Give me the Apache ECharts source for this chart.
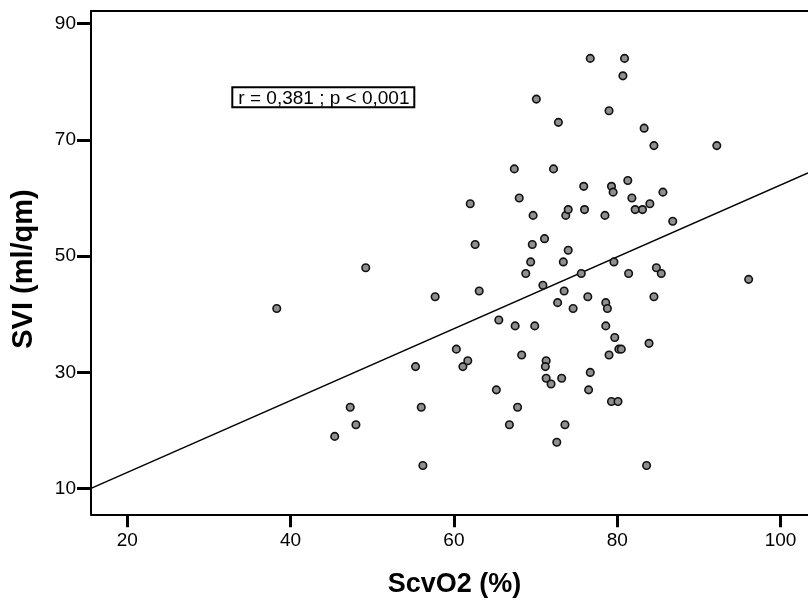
<!DOCTYPE html>
<html>
<head>
<meta charset="utf-8">
<script src="https://cdn.jsdelivr.net/npm/echarts@6/dist/echarts.min.js"></script>
<style>
html,body{margin:0;padding:0;background:#fff;}
#chart{width:808px;height:601px;}
</style>
</head>
<body>
<div id="chart"></div>
<script>
// ---- data ----
const scvo2 = [38.3,49.2,45.4,47.3,48.0,55.3,56.0,56.2,57.7,60.3,61.1,61.7,62.0,62.6,63.1,65.2,65.5,66.8,67.4,67.5,67.8,68.0,68.3,68.8,69.4,69.6,69.7,69.9,70.1,70.9,71.1,71.3,71.2,71.3,71.9,72.2,72.6,72.7,72.8,73.2,73.4,73.5,73.6,73.7,74.0,74.0,74.6,75.6,75.9,76.0,76.4,76.5,76.7,76.7,78.5,78.6,78.6,78.8,79.0,79.0,79.3,79.3,79.5,79.6,79.7,80.1,80.2,80.5,80.7,80.9,81.3,81.4,81.8,82.2,83.1,83.3,83.6,84.0,83.9,84.5,84.5,84.8,85.4,85.6,86.8,92.2,96.1];
const svi   = [41,48,19,24,21,31,24,14,43,34,31,32,59,52,44,27,39,21,65,38,24,60,33,47,49,52,57,38,77,45,53,32,31,29,28,65,18,42,73,29,49,44,21,57,58,51,41,47,62,58,43,27,84,30,57,42,38,41,75,33,62,25,61,49,36,25,34,34,81,84,63,47,60,58,58,72,14,59,35,69,43,48,47,61,56,69,46];
const xTicks = [20,40,60,80,100];
const yTicks = [10,30,50,70,90];
const fitIntercept = 0.44;
const fitSlope = 0.618;
const xTitle = 'ScvO2 (%)';
const yTitle = 'SVI (ml/qm)';
const annotation = 'r = 0,381 ; p < 0,001';

// ---- axis extents ----
const xMin = 15.55, xMax = 103.37;
const yMin = 5.6, yMax = 92.15;

const points = scvo2.map((x, i) => [x, svi[i]]);
const fitLine = [xMin, xMax].map(x => [x, fitIntercept + fitSlope * x]);

const tickFont = 'Liberation Sans, Arial, sans-serif';

const chart = echarts.init(document.getElementById('chart'), null, {renderer: 'canvas'});
chart.setOption({
  animation: false,
  backgroundColor: '#ffffff',
  grid: {left: 91, top: 11, bottom: 86.7, right: 0, containLabel: false},
  xAxis: [{
    type: 'value', min: xMin, max: xMax, position: 'bottom',
    axisLine: {show: true, onZero: false, lineStyle: {color: '#000', width: 2}},
    axisTick: {show: true, customValues: xTicks, length: 13, lineStyle: {color: '#000', width: 3}},
    axisLabel: {customValues: xTicks, margin: 17, color: '#000', fontSize: 19, fontFamily: tickFont},
    splitLine: {show: false}
  }, {
    type: 'value', min: xMin, max: xMax, position: 'top',
    axisLine: {show: true, onZero: false, lineStyle: {color: '#000', width: 2}},
    axisTick: {show: false}, axisLabel: {show: false}, splitLine: {show: false}
  }],
  yAxis: {
    type: 'value', min: yMin, max: yMax,
    axisLine: {show: true, onZero: false, lineStyle: {color: '#000', width: 2}},
    axisTick: {show: true, customValues: yTicks, length: 14, lineStyle: {color: '#000', width: 3}},
    axisLabel: {customValues: yTicks, margin: 15, color: '#000', fontSize: 19, fontFamily: tickFont, padding: [4,0,0,0]},
    splitLine: {show: false}
  },
  series: [{
    type: 'line', data: fitLine, showSymbol: false, symbol: 'none',
    lineStyle: {color: '#000', width: 1.5}, silent: true, z: 2
  }, {
    type: 'scatter', data: points, symbol: 'circle', symbolSize: 7.5,
    itemStyle: {color: '#8f8f8f', borderColor: '#111', borderWidth: 1.6, opacity: 1}, z: 3
  }],
  graphic: [{
    type: 'rect', z: 10,
    shape: {x: 232.3, y: 87.3, width: 182, height: 20},
    style: {fill: '#fff', stroke: '#000', lineWidth: 2}
  }, {
    type: 'text', z: 11, x: 323.9, y: 98.3,
    style: {text: annotation, font: '19px ' + tickFont, fill: '#000', align: 'center', verticalAlign: 'middle', textAlign: 'center', textVerticalAlign: 'middle'}
  }, {
    type: 'text', z: 11, x: 454.5, y: 584.5,
    style: {text: xTitle, font: 'bold 27px Liberation Sans, Arial, sans-serif', fill: '#000', align: 'center', verticalAlign: 'middle', textAlign: 'center', textVerticalAlign: 'middle'}
  }, {
    type: 'text', z: 11, x: 24, y: 269, rotation: Math.PI / 2,
    style: {text: yTitle, font: 'bold 29px Liberation Sans, Arial, sans-serif', fill: '#000', align: 'center', verticalAlign: 'middle', textAlign: 'center', textVerticalAlign: 'middle'}
  }]
});
</script>
</body>
</html>
